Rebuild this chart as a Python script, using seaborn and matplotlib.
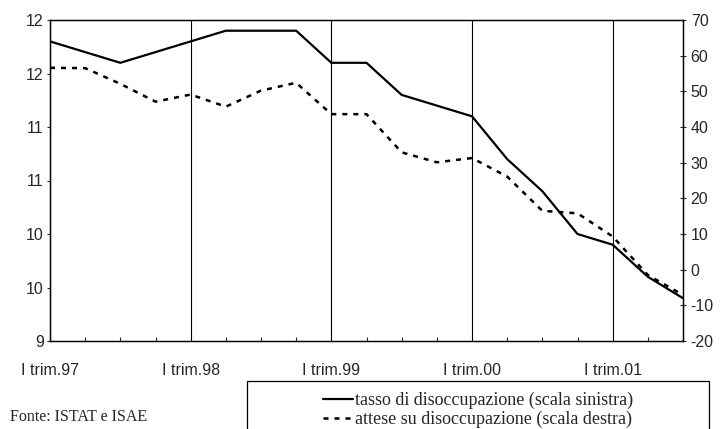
import matplotlib
matplotlib.use("Agg")
import matplotlib.pyplot as plt
import seaborn as sns
import pandas as pd
from matplotlib.patches import Rectangle

# quarters from I trim.97 to III trim.01
quarters = list(range(19))
tick_pos = [0, 4, 8, 12, 16]
tick_labels = ["I trim.97", "I trim.98", "I trim.99", "I trim.00", "I trim.01"]

tasso = [11.8, 11.7, 11.6, 11.7, 11.8, 11.9, 11.9, 11.9, 11.6, 11.6,
         11.3, 11.2, 11.1, 10.7, 10.4, 10.0, 9.9, 9.6, 9.4]
attese = [56.6, 56.5, 52.1, 47.1, 49.1, 45.7, 50.2, 52.4, 43.6, 43.6,
          32.9, 30.1, 31.3, 26.1, 16.5, 15.8, 9.3, -1.5, -7.1]

left_ticks = [9, 9.5, 10, 10.5, 11, 11.5, 12]
left_labels = ["9", "10", "10", "11", "11", "12", "12"]
right_ticks = [-20, -10, 0, 10, 20, 30, 40, 50, 60, 70]

lab_tasso = "tasso di disoccupazione (scala sinistra)"
lab_attese = "attese su disoccupazione (scala destra)"

sns.set_style("white")
plt.rcParams['font.family'] = ['Liberation Sans', 'DejaVu Sans']

df = pd.DataFrame({'q': quarters, 'tasso': tasso, 'attese': attese})

fig = plt.figure(figsize=(7.2, 4.29), dpi=100)
ax = fig.add_axes([50/720, 1-341/429, 633/720, 321/429])
ax2 = ax.twinx()

sns.lineplot(data=df, x='q', y='tasso', ax=ax, color='black', lw=1.6, label=lab_tasso, legend=False)
sns.lineplot(data=df, x='q', y='attese', ax=ax2, color='black', lw=1.8,
             linestyle=(0, (2.0, 2.4)), label=lab_attese, legend=False)

ax.set_xlim(0, 18)
ax.set_ylim(9, 12)
ax2.set_ylim(-20, 70)
ax.set_xlabel("")
ax.set_ylabel("")
ax2.set_ylabel("")

ax.set_xticks(tick_pos)
ax.set_xticklabels(tick_labels, fontsize=11.5)
ax.set_xticks(quarters, minor=True)
ax.tick_params(axis='x', which='major', length=0, pad=16)
ax.tick_params(axis='x', which='minor', direction='in', length=3, width=0.8, bottom=True)
ax.grid(axis='x', which='major', color='black', lw=0.8)

ax.set_yticks(left_ticks)
ax.set_yticklabels(left_labels, fontsize=11.5)
ax.tick_params(axis='y', direction='out', length=2.5, width=0.8, pad=2, left=True)

ax2.set_yticks(right_ticks)
ax2.set_yticklabels([str(v) for v in right_ticks], fontsize=11.5)
ax2.tick_params(axis='y', direction='inout', length=5, width=0.8, pad=3, right=True)

for a in (ax, ax2):
    for s in a.spines.values():
        s.set_color('black')
        s.set_linewidth(0.9)

# legend box
fig.patches.append(Rectangle((247/720, 1-440/429), 462/720, 59/429,
                             transform=fig.transFigure, fill=False,
                             edgecolor='black', lw=0.9))
h1, l1 = ax.get_legend_handles_labels()
h2, l2 = ax2.get_legend_handles_labels()
fig.legend(h1 + h2, l1 + l2, loc='upper center', bbox_to_anchor=(478/720, 1-383/429),
           frameon=False, prop={'family': 'Liberation Serif', 'size': 13},
           handlelength=1.65, handletextpad=0.1, labelspacing=0.08, borderpad=0)

fig.text(10/720, 1-417/429, "Fonte: ISTAT e ISAE", family='Liberation Serif',
         fontsize=11.5, va='center', ha='left')

fig.savefig("out.png", dpi=100)
